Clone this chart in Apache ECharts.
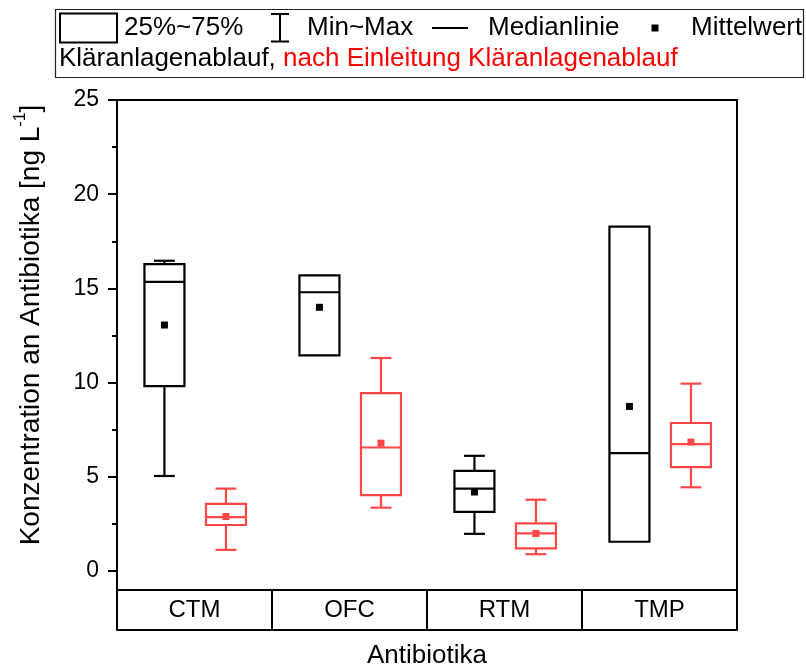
<!DOCTYPE html>
<html>
<head>
<meta charset="utf-8">
<script src="https://cdn.jsdelivr.net/npm/echarts@6/dist/echarts.min.js"></script>
<style>
  html, body { margin: 0; padding: 0; background: #fff; }
  #chart { width: 806px; height: 667px; }
</style>
</head>
<body>
<div id="chart"></div>
<script>
// Antibiotika categories
const categories = ['CTM', 'OFC', 'RTM', 'TMP'];

// Kläranlagenablauf (black boxes)
const ablaufMin    = [5.05, 11.45, 1.98, 1.56];
const ablaufQ1     = [9.82, 11.45, 3.15, 1.56];
const ablaufMedian = [15.35, 14.80, 4.38, 6.26];
const ablaufQ3     = [16.29, 15.69, 5.32, 18.28];
const ablaufMax    = [16.47, 15.69, 6.12, 18.28];
const ablaufMean   = [13.06, 14.00, 4.20, 8.74];

// nach Einleitung Kläranlagenablauf (red boxes)
const einleitungMin    = [1.13, 3.37, 0.90, 4.45];
const einleitungQ1     = [2.45, 4.03, 1.21, 5.52];
const einleitungMedian = [2.87, 6.56, 2.00, 6.74];
const einleitungQ3     = [3.57, 9.45, 2.54, 7.86];
const einleitungMax    = [4.38, 11.31, 3.79, 9.95];
const einleitungMean   = [2.90, 6.79, 2.00, 6.85];

// y-axis tick labels
const yTickValues = [0, 5, 10, 15, 20, 25];
const yMinorTickValues = [2.5, 7.5, 12.5, 17.5, 22.5];

const FONT = '"Liberation Sans", Arial, Helvetica, sans-serif';
const BLACK = '#000000';
const RED = '#ff4646';

function buildRows(mins, q1s, meds, q3s, maxs, means) {
  return categories.map((c, i) => [i, mins[i], q1s[i], meds[i], q3s[i], maxs[i], means[i]]);
}

// draws one box-whisker glyph per category, shifted inside the band
function boxRenderer(offsetRatio, color) {
  return function (params, api) {
    const idx = api.value(0);
    const band = api.size([1, 0])[0];
    const cx = api.coord([idx, 0])[0] + band * offsetRatio;
    const boxW = band * 0.258;
    const capW = band * 0.135;
    const y = (k) => api.coord([idx, api.value(k)])[1];
    const yMin = y(1), yQ1 = y(2), yMed = y(3), yQ3 = y(4), yMax = y(5), yMean = y(6);
    const ls = { stroke: color, lineWidth: 2.2, fill: null };
    const children = [];
    if (yMin - yQ1 > 0.5) {
      children.push({ type: 'line', shape: { x1: cx, y1: yQ1, x2: cx, y2: yMin }, style: ls });
      children.push({ type: 'line', shape: { x1: cx - capW / 2, y1: yMin, x2: cx + capW / 2, y2: yMin }, style: ls });
    }
    if (yQ3 - yMax > 0.5) {
      children.push({ type: 'line', shape: { x1: cx, y1: yMax, x2: cx, y2: yQ3 }, style: ls });
      children.push({ type: 'line', shape: { x1: cx - capW / 2, y1: yMax, x2: cx + capW / 2, y2: yMax }, style: ls });
    }
    children.push({ type: 'rect', shape: { x: cx - boxW / 2, y: yQ3, width: boxW, height: yQ1 - yQ3 }, style: ls });
    children.push({ type: 'line', shape: { x1: cx - boxW / 2, y1: yMed, x2: cx + boxW / 2, y2: yMed }, style: ls });
    children.push({ type: 'rect', shape: { x: cx - 3.5, y: yMean - 3.5, width: 7, height: 7 }, style: { fill: color } });
    return { type: 'group', children: children };
  };
}

const chart = echarts.init(document.getElementById('chart'), null, { renderer: 'canvas' });

const legendY1 = 28;
const legendY2 = 59;
const LEGEND_FONT = '26px ' + FONT;

chart.setOption({
  animation: false,
  backgroundColor: '#ffffff',
  grid: {
    left: 117, right: 69, top: 100, bottom: 77,
    show: true, borderColor: BLACK, borderWidth: 2, backgroundColor: 'transparent'
  },
  xAxis: [{
    type: 'category',
    data: categories,
    position: 'bottom',
    boundaryGap: true,
    axisLine: { show: true, onZero: false, lineStyle: { color: BLACK, width: 2 } },
    axisTick: { show: true, interval: 0, length: 40, lineStyle: { color: BLACK, width: 2 } },
    axisLabel: { interval: 0, fontSize: 24, color: BLACK, fontFamily: FONT, margin: 8 },
    splitLine: { show: false }
  }, {
    type: 'category',
    data: categories,
    position: 'bottom',
    offset: 40,
    axisLine: { show: true, onZero: false, lineStyle: { color: BLACK, width: 2 } },
    axisTick: { show: false },
    axisLabel: { show: false },
    splitLine: { show: false }
  }],
  yAxis: [{
    type: 'value',
    min: -1, max: 25,
    axisLine: { show: true, onZero: false, lineStyle: { color: BLACK, width: 2 } },
    axisTick: { show: true, length: 9, customValues: yTickValues, lineStyle: { color: BLACK, width: 2 } },
    axisLabel: { customValues: yTickValues, fontSize: 23, color: BLACK, fontFamily: FONT, margin: 18 },
    splitLine: { show: false }
  }, {
    type: 'value',
    min: -1, max: 25,
    position: 'left',
    axisLine: { show: false, onZero: false },
    axisTick: { show: true, length: 5, customValues: yMinorTickValues, lineStyle: { color: BLACK, width: 2 } },
    axisLabel: { show: false },
    splitLine: { show: false }
  }],
  series: [{
    name: 'Kläranlagenablauf',
    type: 'custom',
    silent: true,
    renderItem: boxRenderer(-0.194, BLACK),
    encode: { x: 0, y: [1, 2, 3, 4, 5, 6] },
    data: buildRows(ablaufMin, ablaufQ1, ablaufMedian, ablaufQ3, ablaufMax, ablaufMean)
  }, {
    name: 'nach Einleitung Kläranlagenablauf',
    type: 'custom',
    silent: true,
    renderItem: boxRenderer(0.203, RED),
    encode: { x: 0, y: [1, 2, 3, 4, 5, 6] },
    data: buildRows(einleitungMin, einleitungQ1, einleitungMedian, einleitungQ3, einleitungMax, einleitungMean)
  }],
  graphic: [
    // legend frame
    { type: 'rect', shape: { x: 55.5, y: 9.5, width: 748, height: 68 }, style: { fill: '#fff', stroke: '#222', lineWidth: 1.2 }, z: 10 },
    // 25%~75% box symbol
    { type: 'rect', shape: { x: 60, y: 13.5, width: 57, height: 29 }, style: { fill: null, stroke: BLACK, lineWidth: 2 }, z: 11 },
    { type: 'text', x: 124, y: legendY1, style: { text: '25%~75%', font: LEGEND_FONT, fill: BLACK, align: 'left', verticalAlign: 'middle' }, z: 11 },
    // Min~Max I-beam
    { type: 'line', shape: { x1: 280, y1: 14, x2: 280, y2: 41.5 }, style: { stroke: BLACK, lineWidth: 2 }, z: 11 },
    { type: 'line', shape: { x1: 271, y1: 14, x2: 289, y2: 14 }, style: { stroke: BLACK, lineWidth: 2 }, z: 11 },
    { type: 'line', shape: { x1: 271, y1: 41.5, x2: 289, y2: 41.5 }, style: { stroke: BLACK, lineWidth: 2 }, z: 11 },
    { type: 'text', x: 307, y: legendY1, style: { text: 'Min~Max', font: LEGEND_FONT, fill: BLACK, align: 'left', verticalAlign: 'middle' }, z: 11 },
    // median line
    { type: 'line', shape: { x1: 432, y1: legendY1, x2: 468, y2: legendY1 }, style: { stroke: BLACK, lineWidth: 2 }, z: 11 },
    { type: 'text', x: 488, y: legendY1, style: { text: 'Medianlinie', font: LEGEND_FONT, fill: BLACK, align: 'left', verticalAlign: 'middle' }, z: 11 },
    // mean marker
    { type: 'rect', shape: { x: 651.5, y: legendY1 - 3.5, width: 7, height: 7 }, style: { fill: BLACK }, z: 11 },
    { type: 'text', x: 691, y: legendY1, style: { text: 'Mittelwert', font: LEGEND_FONT, fill: BLACK, align: 'left', verticalAlign: 'middle' }, z: 11 },
    // series names
    {
      type: 'text', x: 59, y: legendY2, z: 11,
      style: {
        text: '{k|Kläranlagenablauf, }{r|nach Einleitung Kläranlagenablauf}',
        align: 'left', verticalAlign: 'middle',
        rich: {
          k: { fontSize: 26, fontFamily: FONT, fill: BLACK, color: BLACK },
          r: { fontSize: 26, fontFamily: FONT, fill: '#ff0000', color: '#ff0000' }
        }
      }
    },
    // y-axis title
    {
      type: 'text', x: 29, y: 325, rotation: Math.PI / 2, z: 11,
      style: {
        text: '{t|Konzentration an Antibiotika [ng L}{s|-1}{t|]}',
        align: 'center', verticalAlign: 'middle',
        rich: {
          t: { fontSize: 28, fontFamily: FONT, fill: BLACK, color: BLACK, lineHeight: 32, verticalAlign: 'bottom' },
          s: { fontSize: 16, fontFamily: FONT, fill: BLACK, color: BLACK, lineHeight: 32, verticalAlign: 'top' }
        }
      }
    },
    // x-axis title
    { type: 'text', x: 427, y: 656, style: { text: 'Antibiotika', font: '26px ' + FONT, fill: BLACK, align: 'center', verticalAlign: 'middle' }, z: 11 }
  ]
});
</script>
</body>
</html>
